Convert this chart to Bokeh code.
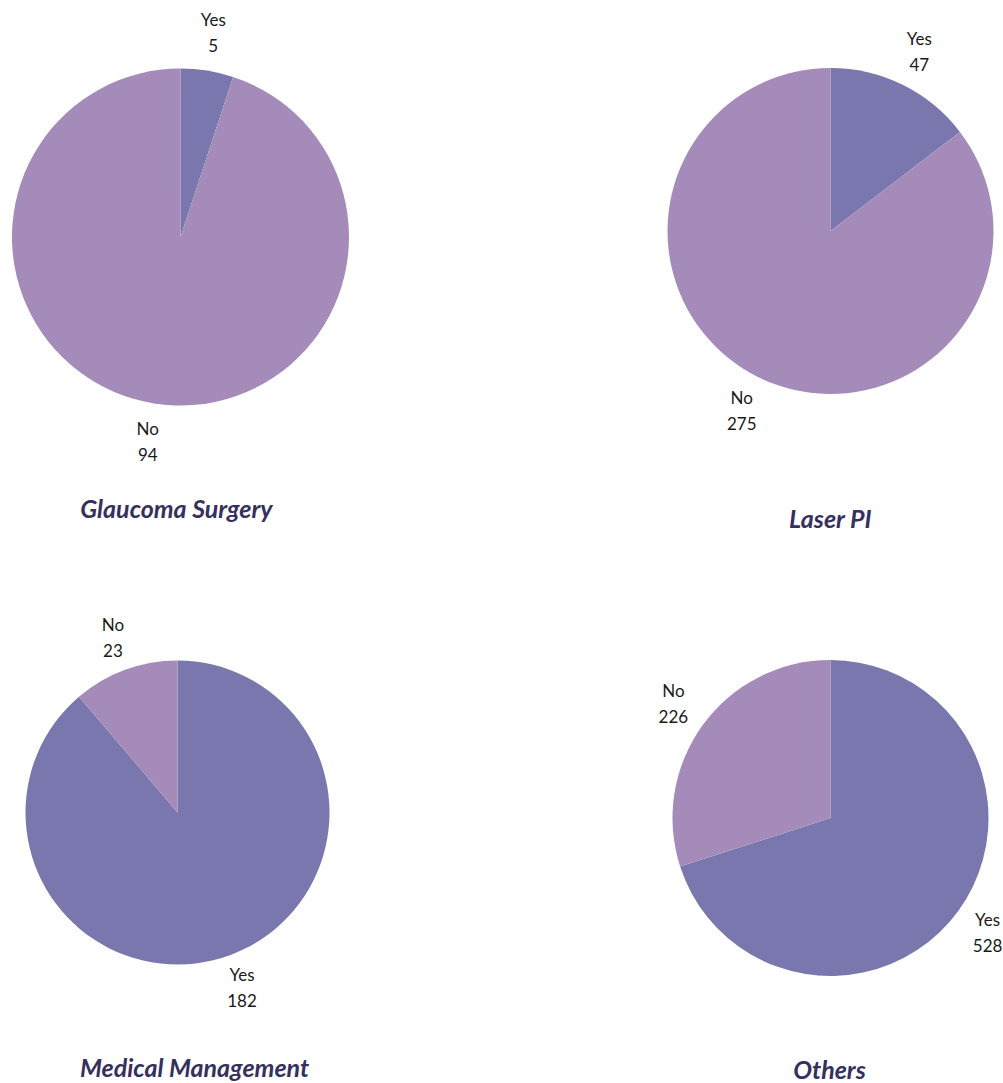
import math
from bokeh.plotting import figure
from bokeh.models import Range1d, ColumnDataSource
from bokeh.core.properties import value
from bokeh.embed import file_html
from bokeh.resources import INLINE

# Survey answers per treatment
titles = ["Glaucoma Surgery", "Laser PI", "Medical Management", "Others"]
categories = ["Yes", "No"]
yes_counts = [5, 47, 182, 528]
no_counts = [94, 275, 23, 226]

# Layout of each pie on the page (pixels from top-left)
W, H = 1003, 1083
centers = [(180, 236.5), (830, 230.5), (177, 812), (830, 817.5)]
radii = [168.5, 163, 152, 158]
title_pos = [(176, 507), (830, 517), (194, 1066), (829, 1068)]
colors = {"Yes": "#7977AE", "No": "#A48BBA"}

p = figure(width=W, height=H, x_range=Range1d(0, W), y_range=Range1d(0, H),
           output_backend="svg", toolbar_location=None, min_border=0)
p.axis.visible = False
p.grid.visible = False
p.outline_line_color = None
p.background_fill_color = "white"
p.border_fill_color = "white"

wx, wy, wr, ws, we, wc = [], [], [], [], [], []
lx, ly, lname, lval = [], [], [], []
for i in range(len(titles)):
    vals = [yes_counts[i], no_counts[i]]
    total = sum(vals)
    cx, cy = centers[i]
    cy = H - cy
    r = radii[i]
    cum = 0.0
    for cat, v in zip(categories, vals):
        f0 = cum / total
        f1 = (cum + v) / total
        cum += v
        # clockwise from 12 o'clock
        wx.append(cx); wy.append(cy); wr.append(r)
        ws.append(math.pi / 2 - 2 * math.pi * f1)
        we.append(math.pi / 2 - 2 * math.pi * f0)
        wc.append(colors[cat])
        mid = math.pi / 2 - math.pi * (f0 + f1)
        lr = 1.23 * r
        lx.append(cx + lr * math.cos(mid))
        ly.append(cy + lr * math.sin(mid))
        lname.append(cat)
        lval.append(str(v))

src = ColumnDataSource(dict(x=wx, y=wy, r=wr, s=ws, e=we, c=wc))
p.wedge(x="x", y="y", radius="r", start_angle="s", end_angle="e",
        fill_color="c", line_color=None, source=src)

lsrc = ColumnDataSource(dict(x=lx, y=ly, name=lname, val=lval))
for col, off in (("name", -13), ("val", 13)):
    p.text(x="x", y="y", text=col, source=lsrc, y_offset=off,
           text_align="center", text_baseline="middle",
           text_font=value("Lato"), text_font_size="17px", text_color="#1a1a1a")

tsrc = ColumnDataSource(dict(x=[t[0] for t in title_pos], y=[H - t[1] for t in title_pos], t=titles))
p.text(x="x", y="y", text="t", source=tsrc, text_align="center", text_baseline="middle",
       text_font=value("Lato"), text_font_style="bold italic", text_font_size="25px",
       text_color="#35305E")

open("out.html", "w").write(file_html(p, INLINE))
